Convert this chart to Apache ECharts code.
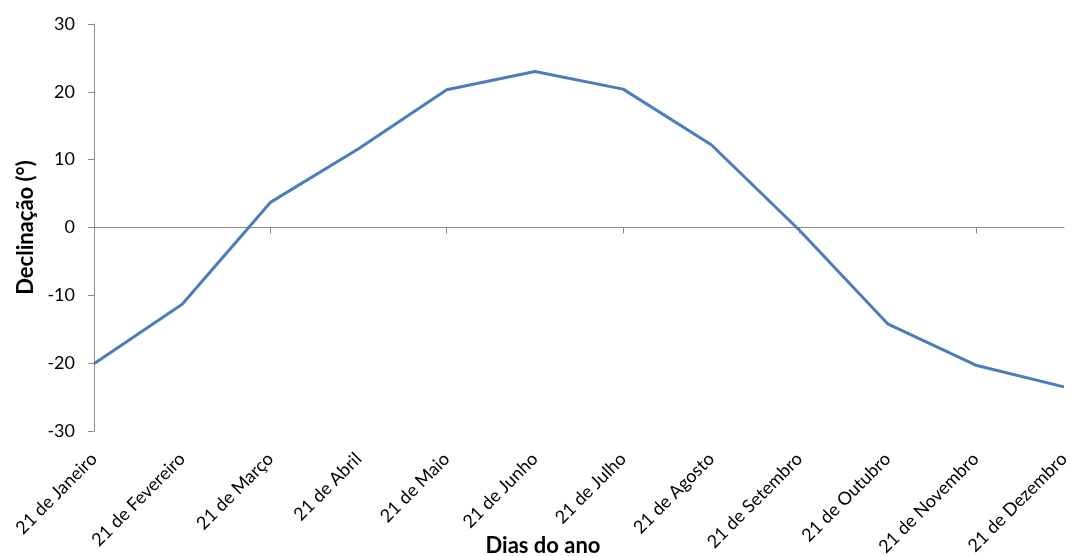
<!DOCTYPE html>
<html>
<head>
<meta charset="utf-8">
<script src="https://cdn.jsdelivr.net/npm/echarts@6/dist/echarts.min.js"></script>
<style>
html,body{margin:0;padding:0;background:#fff;overflow:hidden;}
#c{width:1071px;height:556px;}
</style>
</head>
<body>
<div id="c"></div>
<script>
const categories = ["21 de Janeiro","21 de Fevereiro","21 de Março","21 de Abril","21 de Maio","21 de Junho","21 de Julho","21 de Agosto","21 de Setembro","21 de Outubro","21 de Novembro","21 de Dezembro"];
const declinacao = [-20.1, -11.3, 3.7, 11.6, 20.3, 23.0, 20.4, 12.2, -0.4, -14.2, -20.3, -23.5];
const yTicks = {min: -30, max: 30, interval: 10};
const xTitle = "Dias do ano";
const yTitle = "Declinação (°)";

const FONT = "Lato";
const chart = echarts.init(document.getElementById('c'), null, {renderer: 'canvas', width: 1071, height: 556});
chart.setOption({
  animation: false,
  backgroundColor: '#ffffff',
  grid: {left: 94, right: 7, top: 24, height: 407, containLabel: false, outerBoundsMode: 'none'},
  xAxis: [
    {
      type: 'category', data: categories, boundaryGap: false, position: 'bottom',
      axisLine: {show: true, onZero: true, lineStyle: {color: '#8c8c8c', width: 1}},
      axisTick: {show: true, length: 6, inside: false, lineStyle: {color: '#8c8c8c'}},
      axisLabel: {show: false}, splitLine: {show: false}
    },
    {
      type: 'category', data: categories, boundaryGap: false, position: 'bottom',
      axisLine: {show: false, onZero: false}, axisTick: {show: false},
      axisLabel: {show: true, rotate: 45, margin: 25, interval: 0, color: '#000', fontFamily: FONT, fontSize: 18},
      name: xTitle, nameLocation: 'middle', nameGap: 104, nameMoveOverlap: false,
      nameTextStyle: {color: '#000', fontFamily: FONT, fontSize: 22, fontWeight: 'bold', padding: [0, 72, 0, 0]},
      splitLine: {show: false}
    }
  ],
  yAxis: {
    type: 'value', min: yTicks.min, max: yTicks.max, interval: yTicks.interval,
    axisLine: {show: true, lineStyle: {color: '#8c8c8c', width: 1}},
    axisTick: {show: true, length: 6, inside: false, lineStyle: {color: '#8c8c8c'}},
    axisLabel: {margin: 19, color: '#000', fontFamily: FONT, fontSize: 18},
    splitLine: {show: false},
    name: yTitle, nameLocation: 'middle', nameGap: 57, nameRotate: 90, nameMoveOverlap: false,
    nameTextStyle: {color: '#000', fontFamily: FONT, fontSize: 22, fontWeight: 'bold'}
  },
  series: [{
    type: 'line', data: declinacao, xAxisIndex: 0, yAxisIndex: 0,
    showSymbol: false, symbol: 'none', smooth: false,
    lineStyle: {color: '#4a7ebb', width: 3}
  }]
});
</script>
</body>
</html>
